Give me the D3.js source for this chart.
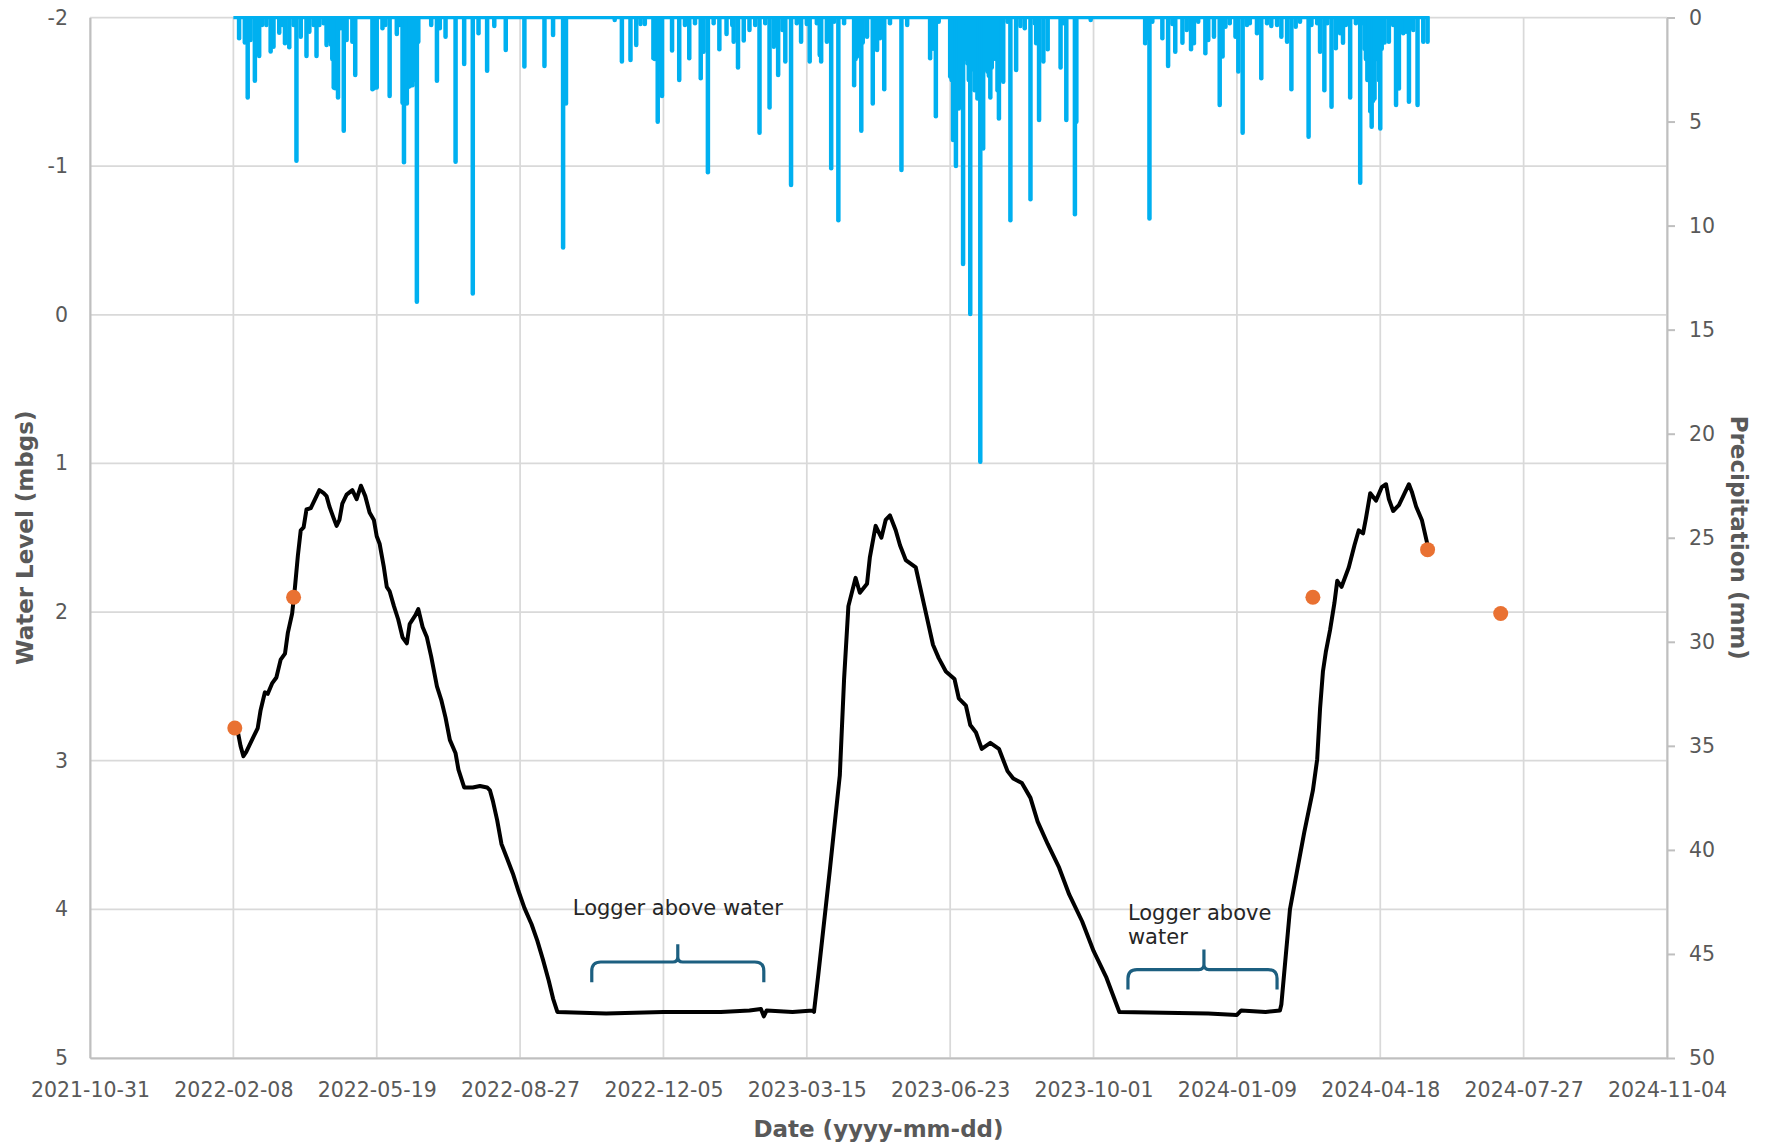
<!DOCTYPE html>
<html>
<head>
<meta charset="utf-8">
<script src="https://cdn.jsdelivr.net/npm/d3@7"></script>
<style>
  html, body { margin: 0; padding: 0; background: #fff; }
  svg text { font-family: "DejaVu Sans", "Noto Sans", sans-serif; fill: #595959; }
</style>
</head>
<body>
<svg id="chart" width="1767" height="1146"></svg>
<script>
// ---- Axis ticks ----
const dateTicks = ["2021-10-31", "2022-02-08", "2022-05-19", "2022-08-27", "2022-12-05", "2023-03-15",
                   "2023-06-23", "2023-10-01", "2024-01-09", "2024-04-18", "2024-07-27", "2024-11-04"];
const levelTicks = [-2, -1, 0, 1, 2, 3, 4, 5];
const rainTicks = [0, 5, 10, 15, 20, 25, 30, 35, 40, 45, 50];

// ---- Logger water level (m below ground surface) ----
const waterLevel = [
  ["2022-02-11", 2.80], ["2022-02-13", 2.90], ["2022-02-15", 2.97], ["2022-02-17", 2.94], ["2022-02-19", 2.90],
  ["2022-02-22", 2.84], ["2022-02-25", 2.78], ["2022-02-27", 2.66], ["2022-03-01", 2.58], ["2022-03-02", 2.54],
  ["2022-03-04", 2.55], ["2022-03-07", 2.48], ["2022-03-10", 2.44], ["2022-03-13", 2.32], ["2022-03-16", 2.28],
  ["2022-03-18", 2.14], ["2022-03-21", 2.01], ["2022-03-23", 1.83], ["2022-03-25", 1.62], ["2022-03-27", 1.45],
  ["2022-03-29", 1.43], ["2022-03-31", 1.31], ["2022-04-03", 1.30], ["2022-04-06", 1.24], ["2022-04-09", 1.18],
  ["2022-04-12", 1.20], ["2022-04-14", 1.22], ["2022-04-16", 1.29], ["2022-04-19", 1.37], ["2022-04-21", 1.42],
  ["2022-04-23", 1.38], ["2022-04-25", 1.27], ["2022-04-28", 1.21], ["2022-05-02", 1.18], ["2022-05-05", 1.24],
  ["2022-05-08", 1.15], ["2022-05-11", 1.22], ["2022-05-14", 1.33], ["2022-05-17", 1.38], ["2022-05-19", 1.49],
  ["2022-05-21", 1.54], ["2022-05-24", 1.70], ["2022-05-26", 1.83], ["2022-05-28", 1.86], ["2022-05-31", 1.96],
  ["2022-06-03", 2.05], ["2022-06-06", 2.17], ["2022-06-09", 2.21], ["2022-06-11", 2.08], ["2022-06-15", 2.02],
  ["2022-06-17", 1.98], ["2022-06-20", 2.10], ["2022-06-23", 2.17], ["2022-06-26", 2.30], ["2022-06-30", 2.50],
  ["2022-07-03", 2.59], ["2022-07-06", 2.71], ["2022-07-09", 2.86], ["2022-07-13", 2.95], ["2022-07-15", 3.06],
  ["2022-07-19", 3.18], ["2022-07-25", 3.18], ["2022-07-30", 3.17], ["2022-08-04", 3.18], ["2022-08-06", 3.20],
  ["2022-08-08", 3.27], ["2022-08-11", 3.40], ["2022-08-14", 3.56], ["2022-08-18", 3.66], ["2022-08-22", 3.76],
  ["2022-08-26", 3.88], ["2022-08-30", 3.99], ["2022-09-04", 4.10], ["2022-09-08", 4.21], ["2022-09-12", 4.34],
  ["2022-09-16", 4.48], ["2022-09-19", 4.60], ["2022-09-22", 4.69], ["2022-10-26", 4.70], ["2022-12-05", 4.69],
  ["2023-01-14", 4.69], ["2023-02-03", 4.68], ["2023-02-11", 4.67], ["2023-02-13", 4.72], ["2023-02-15", 4.68],
  ["2023-03-05", 4.69], ["2023-03-19", 4.68], ["2023-03-20", 4.69], ["2023-03-23", 4.44], ["2023-03-31", 3.74],
  ["2023-04-07", 3.10], ["2023-04-10", 2.45], ["2023-04-13", 1.96], ["2023-04-18", 1.77], ["2023-04-21", 1.87],
  ["2023-04-26", 1.81], ["2023-04-28", 1.63], ["2023-05-02", 1.42], ["2023-05-06", 1.50], ["2023-05-09", 1.38],
  ["2023-05-12", 1.35], ["2023-05-16", 1.45], ["2023-05-19", 1.55], ["2023-05-23", 1.65], ["2023-05-30", 1.70],
  ["2023-06-05", 1.96], ["2023-06-11", 2.22], ["2023-06-15", 2.31], ["2023-06-20", 2.40], ["2023-06-26", 2.45],
  ["2023-06-29", 2.58], ["2023-07-04", 2.63], ["2023-07-07", 2.76], ["2023-07-11", 2.81], ["2023-07-15", 2.92],
  ["2023-07-21", 2.88], ["2023-07-27", 2.92], ["2023-08-02", 3.07], ["2023-08-06", 3.12], ["2023-08-12", 3.15],
  ["2023-08-18", 3.25], ["2023-08-23", 3.41], ["2023-08-30", 3.56], ["2023-09-07", 3.72], ["2023-09-14", 3.90],
  ["2023-09-23", 4.08], ["2023-10-01", 4.28], ["2023-10-10", 4.46], ["2023-10-19", 4.69], ["2023-12-20", 4.70],
  ["2024-01-09", 4.71], ["2024-01-12", 4.68], ["2024-01-29", 4.69], ["2024-02-08", 4.68], ["2024-02-09", 4.64],
  ["2024-02-15", 4.00], ["2024-02-20", 3.74], ["2024-02-25", 3.48], ["2024-03-02", 3.20], ["2024-03-05", 2.99],
  ["2024-03-07", 2.65], ["2024-03-09", 2.40], ["2024-03-11", 2.27], ["2024-03-14", 2.12], ["2024-03-17", 1.94],
  ["2024-03-19", 1.79], ["2024-03-22", 1.83], ["2024-03-27", 1.70], ["2024-03-31", 1.55], ["2024-04-03", 1.45],
  ["2024-04-06", 1.47], ["2024-04-08", 1.37], ["2024-04-11", 1.20], ["2024-04-15", 1.25], ["2024-04-19", 1.16],
  ["2024-04-22", 1.14], ["2024-04-24", 1.24], ["2024-04-27", 1.32], ["2024-05-01", 1.28], ["2024-05-05", 1.20],
  ["2024-05-08", 1.14], ["2024-05-10", 1.19], ["2024-05-13", 1.29], ["2024-05-17", 1.38], ["2024-05-21", 1.55]
];

// ---- Manual water level measurements ----
const manualLevel = [
  ["2022-02-09", 2.78], ["2022-03-22", 1.90], ["2024-03-02", 1.90], ["2024-05-21", 1.58], ["2024-07-11", 2.01]
];

// ---- Daily precipitation (mm), rainy days only ----
const rainPeriod = ["2022-02-08", "2024-05-22"];
const rainfall = [
  ["2022-02-12", 1.0], ["2022-02-16", 1.2], ["2022-02-18", 3.84], ["2022-02-20", 1.08], ["2022-02-23", 3.04],
  ["2022-02-26", 1.85], ["2022-02-28", 0.36], ["2022-03-03", 0.36], ["2022-03-06", 1.63], ["2022-03-08", 1.40],
  ["2022-03-12", 0.73], ["2022-03-14", 0.36], ["2022-03-16", 1.24], ["2022-03-19", 1.43], ["2022-03-22", 0.36],
  ["2022-03-24", 6.88], ["2022-03-27", 0.92], ["2022-03-31", 1.85], ["2022-04-02", 0.68], ["2022-04-05", 0.36],
  ["2022-04-07", 1.85], ["2022-04-09", 0.36], ["2022-04-12", 0.28], ["2022-04-14", 1.32], ["2022-04-15", 1.1],
  ["2022-04-16", 0.76], ["2022-04-17", 1.3], ["2022-04-18", 2.0], ["2022-04-19", 3.36], ["2022-04-20", 3.4],
  ["2022-04-21", 3.0], ["2022-04-22", 3.84], ["2022-04-24", 0.52], ["2022-04-26", 5.44], ["2022-04-28", 1.08],
  ["2022-05-02", 1.16], ["2022-05-04", 2.76], ["2022-05-16", 3.45], ["2022-05-17", 3.4], ["2022-05-18", 3.3],
  ["2022-05-19", 3.36], ["2022-05-23", 0.52], ["2022-05-25", 0.36], ["2022-05-28", 3.77], ["2022-06-02", 0.79],
  ["2022-06-04", 0.36], ["2022-06-06", 4.1], ["2022-06-07", 6.96], ["2022-06-08", 3.5], ["2022-06-09", 4.13],
  ["2022-06-10", 3.33], ["2022-06-11", 3.3], ["2022-06-12", 3.2], ["2022-06-13", 3.25], ["2022-06-14", 3.0],
  ["2022-06-15", 2.5], ["2022-06-16", 13.66], ["2022-06-17", 1.16], ["2022-06-26", 0.36], ["2022-06-30", 3.04],
  ["2022-07-02", 0.52], ["2022-07-06", 0.92], ["2022-07-13", 6.93], ["2022-07-19", 2.24], ["2022-07-25", 13.26],
  ["2022-07-29", 0.76], ["2022-08-04", 2.56], ["2022-08-09", 0.41], ["2022-08-17", 1.56], ["2022-08-30", 2.36],
  ["2022-09-13", 2.33], ["2022-09-19", 0.84], ["2022-09-26", 11.05], ["2022-09-27", 1.24], ["2022-09-28", 4.13],
  ["2022-11-01", 0.12], ["2022-11-06", 2.12], ["2022-11-12", 2.04], ["2022-11-16", 1.32], ["2022-11-19", 0.31],
  ["2022-11-22", 0.31], ["2022-11-28", 1.96], ["2022-11-29", 2.0], ["2022-12-01", 5.01], ["2022-12-02", 2.5],
  ["2022-12-04", 3.77], ["2022-12-11", 1.59], ["2022-12-16", 3.0], ["2022-12-20", 0.36], ["2022-12-23", 1.96],
  ["2022-12-27", 0.28], ["2022-12-31", 2.92], ["2023-01-02", 1.64], ["2023-01-05", 7.44], ["2023-01-09", 0.28],
  ["2023-01-13", 1.53], ["2023-01-18", 0.79], ["2023-01-22", 0.36], ["2023-01-23", 1.16], ["2023-01-26", 2.40],
  ["2023-01-30", 1.11], ["2023-02-03", 0.60], ["2023-02-07", 0.36], ["2023-02-10", 5.54], ["2023-02-14", 0.28],
  ["2023-02-17", 4.32], ["2023-02-20", 1.40], ["2023-02-23", 2.76], ["2023-02-26", 0.60], ["2023-02-28", 2.12],
  ["2023-03-04", 8.05], ["2023-03-08", 0.28], ["2023-03-11", 1.16], ["2023-03-15", 0.31], ["2023-03-17", 2.12],
  ["2023-03-22", 0.28], ["2023-03-24", 1.80], ["2023-03-25", 2.12], ["2023-03-29", 1.16], ["2023-04-01", 7.25],
  ["2023-04-03", 0.20], ["2023-04-06", 9.74], ["2023-04-10", 0.28], ["2023-04-17", 3.25], ["2023-04-18", 2.0],
  ["2023-04-19", 1.88], ["2023-04-20", 1.5], ["2023-04-22", 5.44], ["2023-04-23", 1.2], ["2023-04-26", 0.92],
  ["2023-04-30", 4.13], ["2023-05-03", 1.56], ["2023-05-05", 1.00], ["2023-05-08", 3.45], ["2023-05-12", 0.28],
  ["2023-05-20", 7.33], ["2023-05-24", 0.36], ["2023-06-09", 1.96], ["2023-06-11", 1.5], ["2023-06-13", 4.74],
  ["2023-06-15", 0.20], ["2023-06-23", 2.84], ["2023-06-24", 3.0], ["2023-06-25", 5.89], ["2023-06-26", 4.0],
  ["2023-06-27", 7.14], ["2023-06-28", 3.5], ["2023-06-29", 4.37], ["2023-06-30", 2.5], ["2023-07-02", 11.85],
  ["2023-07-03", 2.0], ["2023-07-04", 0.28], ["2023-07-05", 2.2], ["2023-07-06", 3.0], ["2023-07-07", 14.25],
  ["2023-07-08", 2.5], ["2023-07-09", 2.12], ["2023-07-10", 3.5], ["2023-07-11", 3.0], ["2023-07-12", 3.89],
  ["2023-07-13", 3.0], ["2023-07-14", 21.35], ["2023-07-15", 4.0], ["2023-07-16", 6.29], ["2023-07-17", 2.5],
  ["2023-07-18", 2.2], ["2023-07-19", 2.60], ["2023-07-20", 2.8], ["2023-07-21", 3.84], ["2023-07-22", 2.4],
  ["2023-07-23", 2.0], ["2023-07-24", 1.88], ["2023-07-25", 2.0], ["2023-07-26", 3.5], ["2023-07-27", 4.85],
  ["2023-07-28", 2.5], ["2023-07-29", 2.0], ["2023-07-30", 3.09], ["2023-08-02", 0.20], ["2023-08-04", 9.74],
  ["2023-08-08", 2.52], ["2023-08-11", 0.41], ["2023-08-14", 0.52], ["2023-08-18", 8.73], ["2023-08-21", 0.28],
  ["2023-08-22", 1.24], ["2023-08-24", 4.93], ["2023-08-27", 2.12], ["2023-08-30", 1.53], ["2023-09-08", 2.40],
  ["2023-09-10", 0.28], ["2023-09-12", 4.93], ["2023-09-18", 9.45], ["2023-09-19", 5.01], ["2023-09-29", 0.12],
  ["2023-11-06", 1.24], ["2023-11-07", 1.0], ["2023-11-09", 9.66], ["2023-11-11", 0.20], ["2023-11-18", 1.00],
  ["2023-11-22", 2.33], ["2023-11-25", 0.31], ["2023-11-27", 1.64], ["2023-12-02", 1.21], ["2023-12-05", 0.60],
  ["2023-12-08", 1.53], ["2023-12-10", 1.24], ["2023-12-13", 0.20], ["2023-12-18", 1.72], ["2023-12-20", 1.08],
  ["2023-12-24", 0.92], ["2023-12-28", 4.21], ["2023-12-30", 1.88], ["2024-01-01", 0.44], ["2024-01-04", 0.28],
  ["2024-01-08", 0.92], ["2024-01-10", 2.60], ["2024-01-13", 5.54], ["2024-01-16", 0.36], ["2024-01-18", 0.28],
  ["2024-01-23", 0.76], ["2024-01-26", 2.92], ["2024-01-30", 0.28], ["2024-02-02", 0.41], ["2024-02-06", 0.36],
  ["2024-02-09", 0.92], ["2024-02-13", 1.16], ["2024-02-16", 3.45], ["2024-02-19", 0.44], ["2024-02-22", 0.20],
  ["2024-02-28", 5.73], ["2024-03-01", 0.36], ["2024-03-05", 0.28], ["2024-03-07", 1.64], ["2024-03-10", 3.49],
  ["2024-03-12", 0.28], ["2024-03-15", 4.29], ["2024-03-18", 1.48], ["2024-03-21", 0.76], ["2024-03-23", 1.21],
  ["2024-03-25", 0.36], ["2024-03-28", 3.84], ["2024-04-01", 0.28], ["2024-04-04", 7.94], ["2024-04-06", 0.28],
  ["2024-04-07", 1.5], ["2024-04-08", 2.0], ["2024-04-09", 3.0], ["2024-04-10", 1.08], ["2024-04-11", 4.5],
  ["2024-04-12", 5.25], ["2024-04-13", 4.0], ["2024-04-14", 3.89], ["2024-04-15", 2.0], ["2024-04-16", 1.24],
  ["2024-04-17", 3.0], ["2024-04-18", 5.33], ["2024-04-19", 1.5], ["2024-04-20", 1.08], ["2024-04-21", 1.2],
  ["2024-04-24", 1.16], ["2024-04-27", 0.36], ["2024-04-29", 4.21], ["2024-05-01", 3.41], ["2024-05-04", 0.76],
  ["2024-05-06", 0.68], ["2024-05-08", 4.05], ["2024-05-11", 0.60], ["2024-05-14", 4.21], ["2024-05-18", 1.16],
  ["2024-05-21", 1.16]
];

// ---- Periods when the logger sat above the water table ----
const dryPeriods = [
  { from: "2022-10-16", mid: "2022-12-15", to: "2023-02-13", lines: ["Logger above water"] },
  { from: "2023-10-25", mid: "2023-12-17", to: "2024-02-06", lines: ["Logger above", "water"] }
];

// ---- Layout ----
const parse = d3.utcParse("%Y-%m-%d");
const plot = { left: 90, right: 1667, top: 17.5, bottom: 1058 };

const svg = d3.select("#chart");

const x = d3.scaleUtc()
  .domain([parse(dateTicks[0]), parse(dateTicks[dateTicks.length - 1])])
  .range([plot.left, plot.right]);
const yLevel = d3.scaleLinear().domain([-2, 5]).range([plot.top, plot.bottom]);
const yRain = d3.scaleLinear().domain([0, 50]).range([plot.top, plot.bottom]);

const tickDates = dateTicks.map(parse);

// Gridlines
const grid = svg.append("g").attr("stroke", "#d9d9d9").attr("stroke-width", 1.75);
grid.selectAll("line.h").data(levelTicks).join("line")
  .attr("x1", plot.left).attr("x2", plot.right)
  .attr("y1", d => yLevel(d)).attr("y2", d => yLevel(d));
grid.selectAll("line.v").data(tickDates).join("line")
  .attr("x1", d => x(d)).attr("x2", d => x(d))
  .attr("y1", plot.top).attr("y2", plot.bottom);

// Axes
const tickFont = "20.5px";
const axisColor = "#bfbfbf";

const gLeft = svg.append("g").attr("transform", `translate(${plot.left},0)`)
  .call(d3.axisLeft(yLevel).tickValues(levelTicks).tickSize(0).tickPadding(22).tickFormat(d => String(d)));
const gBottom = svg.append("g").attr("transform", `translate(0,${plot.bottom})`)
  .call(d3.axisBottom(x).tickValues(tickDates).tickSize(0).tickPadding(24)
    .tickFormat((d, i) => dateTicks[i]));
const gRight = svg.append("g").attr("transform", `translate(${plot.right},0)`)
  .call(d3.axisRight(yRain).tickValues(rainTicks).tickSizeInner(8).tickSizeOuter(0).tickPadding(14)
    .tickFormat(d => String(d)));

[gLeft, gBottom, gRight].forEach(g => {
  g.select(".domain").attr("stroke", axisColor).attr("stroke-width", 2);
  g.selectAll(".tick line").attr("stroke", axisColor).attr("stroke-width", 2);
  g.selectAll("text").style("font-size", tickFont).attr("fill", "#595959");
});

// Precipitation (hanging from the top)
const clipId = "plot-clip";
svg.append("clipPath").attr("id", clipId).append("rect")
  .attr("x", plot.left).attr("y", plot.top - 1.5)
  .attr("width", plot.right - plot.left).attr("height", plot.bottom - plot.top + 1.5);

const rainG = svg.append("g").attr("clip-path", `url(#${clipId})`);
rainG.append("line")
  .attr("x1", x(parse(rainPeriod[0]))).attr("x2", x(parse(rainPeriod[1])))
  .attr("y1", yRain(0)).attr("y2", yRain(0))
  .attr("stroke", "#00B0F0").attr("stroke-width", 3.5);
rainG.selectAll("line.rain").data(rainfall).join("line")
  .attr("class", "rain")
  .attr("x1", d => x(parse(d[0]))).attr("x2", d => x(parse(d[0])))
  .attr("y1", yRain(0)).attr("y2", d => yRain(d[1]))
  .attr("stroke", "#00B0F0").attr("stroke-width", 4.5).attr("stroke-linecap", "round");

// Water level line
const line = d3.line().x(d => x(parse(d[0]))).y(d => yLevel(d[1]));
svg.append("path").datum(waterLevel)
  .attr("d", line)
  .attr("fill", "none").attr("stroke", "#000").attr("stroke-width", 4)
  .attr("stroke-linejoin", "round").attr("stroke-linecap", "round");

// Manual measurements
svg.selectAll("circle.manual").data(manualLevel).join("circle")
  .attr("class", "manual")
  .attr("cx", d => x(parse(d[0]))).attr("cy", d => yLevel(d[1]))
  .attr("r", 7.5).attr("fill", "#E97132");

// Braces and notes for the dry-logger periods
const braceColor = "#1c5f80";
const braceSpecs = [
  { ends: 4.49, bar: 4.354, tip: 4.235, text: [4.04], anchor: "middle" },
  { ends: 4.54, bar: 4.405, tip: 4.27, text: [4.069, 4.235], anchor: "start" }
];
dryPeriods.forEach((p, i) => {
  const s = braceSpecs[i];
  const x0 = x(parse(p.from)), x1 = x(parse(p.to)), xm = x(parse(p.mid));
  const yE = yLevel(s.ends), yB = yLevel(s.bar), yT = yLevel(s.tip);
  const r = 9, r2 = 5;
  const path = d3.path();
  path.moveTo(x0, yE);
  path.lineTo(x0, yB + r);
  path.quadraticCurveTo(x0, yB, x0 + r, yB);
  path.lineTo(xm - r2, yB);
  path.quadraticCurveTo(xm, yB, xm, yB - r2);
  path.lineTo(xm, yT);
  path.moveTo(xm, yB - r2);
  path.quadraticCurveTo(xm, yB, xm + r2, yB);
  path.lineTo(x1 - r, yB);
  path.quadraticCurveTo(x1, yB, x1, yB + r);
  path.lineTo(x1, yE);
  svg.append("path").attr("d", path.toString())
    .attr("fill", "none").attr("stroke", braceColor).attr("stroke-width", 3.2);

  const tx = s.anchor === "middle" ? xm : x0;
  p.lines.forEach((t, j) => {
    svg.append("text")
      .attr("x", tx).attr("y", yLevel(s.text[j]))
      .attr("text-anchor", s.anchor)
      .style("font-size", "21px").style("fill", "#262626")
      .text(t);
  });
});

// Axis titles
svg.append("text")
  .attr("x", (plot.left + plot.right) / 2).attr("y", 1137)
  .attr("text-anchor", "middle")
  .style("font-size", "23px").style("font-weight", "bold")
  .text("Date (yyyy-mm-dd)");
svg.append("text")
  .attr("transform", `translate(25,${(plot.top + plot.bottom) / 2}) rotate(-90)`)
  .attr("text-anchor", "middle").attr("dy", "0.35em")
  .style("font-size", "23px").style("font-weight", "bold")
  .text("Water Level (mbgs)");
svg.append("text")
  .attr("transform", `translate(1739,${(plot.top + plot.bottom) / 2}) rotate(90)`)
  .attr("text-anchor", "middle").attr("dy", "0.35em")
  .style("font-size", "23px").style("font-weight", "bold")
  .text("Precipitation (mm)");
</script>
</body>
</html>
